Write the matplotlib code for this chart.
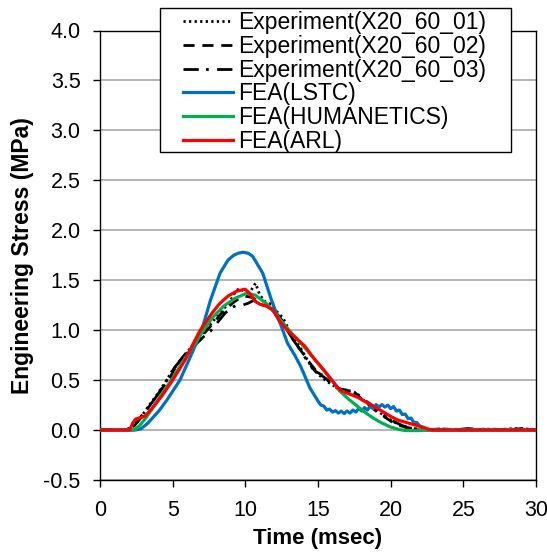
import matplotlib
matplotlib.use("Agg")
import matplotlib.pyplot as plt
from matplotlib.patches import Rectangle

plt.rcParams['font.family'] = ['Liberation Sans', 'DejaVu Sans']

# ---- data ----
exp1_t = [0, 0.5, 1.0, 1.5, 1.9, 2.3, 2.7, 3.1, 3.5, 4.0, 4.5, 5.0, 5.5, 6.0, 6.5, 7.0, 7.5, 8.0,
          8.5, 9.0, 9.3, 9.6, 10.0, 10.4, 10.7, 11.0, 11.4, 11.8, 12.2, 12.6, 13.0, 13.4, 13.8,
          14.2, 14.6, 15.0, 15.5, 16.0, 16.5, 17.0, 17.5, 18.0, 18.5, 19.0, 19.5, 20.0, 20.5,
          21.0, 21.5, 22.0, 22.5, 23.5, 24.5, 25.5, 26.5, 27.5, 28.5, 29.5, 30]
exp1_y = [0.0, 0.005, 0.0, 0.005, 0.01, 0.04, 0.1, 0.19, 0.27, 0.37, 0.48, 0.6, 0.69, 0.78, 0.87, 0.96,
          1.04, 1.13, 1.21, 1.3, 1.38, 1.42, 1.38, 1.40, 1.47, 1.35, 1.28, 1.26, 1.18, 1.12, 1.0,
          0.9, 0.82, 0.72, 0.62, 0.56, 0.5, 0.45, 0.41, 0.39, 0.36, 0.31, 0.26, 0.2, 0.15, 0.1,
          0.06, 0.03, 0.015, 0.005, 0.0, 0.01, 0.005, 0.0, 0.01, 0.005, 0.015, 0.01, 0.0]

exp2_t = [0, 0.6, 1.2, 1.8, 2.2, 2.6, 3.0, 3.4, 3.8, 4.3, 4.8, 5.3, 5.8, 6.3, 6.8, 7.3, 7.8, 8.3,
          8.8, 9.2, 9.6, 10.0, 10.4, 10.8, 11.2, 11.6, 12.0, 12.5, 13.0, 13.5, 14.0, 14.5, 15.0,
          15.5, 16.0, 16.5, 17.0, 17.5, 18.0, 18.5, 19.0, 19.5, 20.0, 20.5, 21.0, 21.5, 22.0,
          23.0, 24.0, 25.0, 26.0, 27.0, 28.0, 29.0, 30]
exp2_y = [0.005, 0.0, 0.005, 0.0, 0.03, 0.09, 0.17, 0.24, 0.32, 0.42, 0.52, 0.66, 0.75, 0.83, 0.91,
          0.99, 1.07, 1.16, 1.23, 1.28, 1.32, 1.34, 1.33, 1.3, 1.25, 1.24, 1.19, 1.1, 0.97, 0.86,
          0.76, 0.66, 0.57, 0.52, 0.46, 0.41, 0.40, 0.38, 0.31, 0.25, 0.19, 0.14, 0.09, 0.05,
          0.03, 0.015, 0.0, 0.005, 0.01, 0.0, 0.005, 0.01, 0.0, 0.015, 0.005]

exp3_t = [0, 0.7, 1.4, 2.0, 2.4, 2.8, 3.2, 3.6, 4.1, 4.6, 5.1, 5.6, 6.1, 6.6, 7.1, 7.6, 8.1, 8.6,
          9.0, 9.4, 9.8, 10.2, 10.6, 11.0, 11.4, 11.8, 12.3, 12.8, 13.3, 13.8, 14.3, 14.8, 15.3,
          15.8, 16.3, 16.8, 17.3, 17.8, 18.3, 18.8, 19.3, 19.8, 20.3, 20.8, 21.3, 21.8, 22.3,
          23.3, 24.3, 25.3, 26.3, 27.3, 28.3, 29.3, 30]
exp3_y = [0.0, 0.005, 0.0, 0.01, 0.05, 0.12, 0.2, 0.28, 0.38, 0.5, 0.62, 0.71, 0.79, 0.86, 0.93,
          0.99, 1.08, 1.17, 1.22, 1.25, 1.25, 1.27, 1.3, 1.26, 1.25, 1.22, 1.14, 1.04, 0.9, 0.8,
          0.68, 0.59, 0.55, 0.48, 0.42, 0.40, 0.39, 0.35, 0.29, 0.24, 0.18, 0.12, 0.08, 0.045,
          0.02, 0.01, 0.0, 0.01, 0.0, 0.015, 0.005, 0.0, 0.01, 0.005, 0.0]

lstc_t = [0, 2.4, 2.8, 3.3, 4.1, 4.6, 5.5, 6.3, 7.0, 7.6, 8.26, 8.8, 9.2, 9.5, 9.85, 10.2, 10.5,
          11.2, 11.8, 12.4, 12.9, 13.4, 13.8, 14.45, 15.0, 15.2, 15.4, 15.6, 15.8, 16.0, 16.2,
          16.4, 16.6, 16.8, 17.0, 17.2, 17.4, 17.6, 17.8, 18.0, 18.2, 18.4, 18.6, 18.8, 19.0,
          19.2, 19.4, 19.6, 19.8, 20.0, 20.2, 20.4, 20.6, 20.8, 21.0, 21.2, 21.4, 21.6, 21.8,
          22.0, 22.2, 22.6, 30]
lstc_y = [0.0, 0.0, 0.01, 0.07, 0.2, 0.3, 0.5, 0.76, 1.0, 1.3, 1.57, 1.7, 1.75, 1.77, 1.78, 1.77, 1.74,
          1.57, 1.3, 1.07, 0.87, 0.75, 0.64, 0.42, 0.29, 0.25, 0.24, 0.2, 0.21, 0.18, 0.195,
          0.17, 0.19, 0.165, 0.19, 0.17, 0.2, 0.18, 0.215, 0.19, 0.225, 0.2, 0.24, 0.215, 0.255,
          0.23, 0.255, 0.23, 0.25, 0.215, 0.235, 0.19, 0.2, 0.155, 0.16, 0.115, 0.12, 0.075, 0.075,
          0.04, 0.03, 0.0, 0.0]

hum_t = [0, 2.3, 2.7, 3.2, 4.25, 5.0, 5.85, 6.9, 7.7, 8.5, 9.3, 10.1, 10.7, 11.5, 12.2, 13.0, 14.0,
         15.0, 15.4, 16.0, 16.5, 17.1, 17.7, 18.3, 18.8, 19.4, 20.0, 20.6, 21.0, 22.0, 22.5, 30]
hum_y = [0.0, 0.0, 0.04, 0.13, 0.36, 0.52, 0.72, 0.95, 1.12, 1.24, 1.32, 1.37, 1.35, 1.26, 1.14, 1.0,
         0.84, 0.67, 0.6, 0.49, 0.39, 0.31, 0.24, 0.17, 0.12, 0.07, 0.03, 0.005, -0.005, -0.005,
         0.0, 0.0]

arl_t = [0, 2.05, 2.25, 2.45, 3.1, 3.6, 4.25, 5.0, 5.85, 6.54, 6.9, 7.7, 8.26, 8.8, 9.4, 9.98, 10.3,
         10.67, 11.0, 11.47, 11.9, 12.4, 13.1, 14.1, 14.7, 15.4, 16.0, 16.5, 17.0, 17.7, 18.3,
         18.8, 19.4, 19.96, 20.5, 21.1, 21.8, 22.5, 22.8, 30]
arl_y = [0.0, 0.0, 0.07, 0.11, 0.14, 0.22, 0.34, 0.5, 0.7, 0.9, 1.0, 1.17, 1.27, 1.34, 1.39, 1.41,
         1.37, 1.29, 1.26, 1.24, 1.2, 1.08, 0.97, 0.84, 0.72, 0.6, 0.49, 0.4, 0.37, 0.33, 0.28,
         0.24, 0.19, 0.14, 0.1, 0.075, 0.045, 0.015, 0.0, 0.0]

labels = ['Experiment(X20_60_01)', 'Experiment(X20_60_02)', 'Experiment(X20_60_03)',
          'FEA(LSTC)', 'FEA(HUMANETICS)', 'FEA(ARL)']
x_ticks = [0, 5, 10, 15, 20, 25, 30]
y_ticks = [-0.5, 0.0, 0.5, 1.0, 1.5, 2.0, 2.5, 3.0, 3.5, 4.0]

# ---- figure ----
W, H = 547, 557
fig = plt.figure(figsize=(W / 100, H / 100), dpi=100)
ax = fig.add_axes([100 / W, 1 - 480 / H, 436 / W, 449.5 / H])

blw = 2.0
clw = 2.3
ax.plot(exp1_t, exp1_y, color='black', lw=blw, linestyle=(0, (0.8, 1.2)), label=labels[0], zorder=3)
ax.plot(exp2_t, exp2_y, color='black', lw=blw, linestyle=(0, (4, 2.8)), label=labels[1], zorder=3)
ax.plot(exp3_t, exp3_y, color='black', lw=blw, linestyle=(0, (5.5, 2.6, 1.0, 3.0)), label=labels[2], zorder=3)
ax.plot(lstc_t, lstc_y, color='#0070C0', lw=clw, label=labels[3], zorder=4)
ax.plot(hum_t, hum_y, color='#00B050', lw=clw, label=labels[4], zorder=5)
ax.plot(arl_t, arl_y, color='#FF0000', lw=clw, label=labels[5], zorder=6)

ax.set_xlim(0, 30)
ax.set_ylim(-0.5, 4.0)
ax.set_xticks(x_ticks)
ax.set_yticks(y_ticks)
ax.set_xticklabels([str(v) for v in x_ticks])
ax.set_yticklabels(['%.1f' % v for v in y_ticks])
ax.tick_params(axis='both', direction='out', length=5, width=1, labelsize=15.5, colors='black')
ax.tick_params(axis='x', pad=9.5)
ax.tick_params(axis='y', pad=9)
ax.yaxis.grid(True, color='#a0a0a0', lw=1.1)
ax.set_axisbelow(True)
for s in ax.spines.values():
    s.set_color('black')
    s.set_linewidth(1.0)

ax.set_xlabel('Time (msec)', fontsize=16, fontweight='bold')
ax.set_ylabel('Engineering Stress (MPa)', fontsize=16.5, fontweight='bold')
ax.xaxis.set_label_coords(0.5, (480 - 528) / 449.5)
ax.yaxis.set_label_coords((34 - 100) / 436, 0.5)

# legend box (Excel-style padding) and frameless legend on top
fig.patches.append(Rectangle((160 / W, 1 - 152 / H), 351 / W, 144 / H, transform=fig.transFigure,
                             facecolor='white', edgecolor='black', lw=1.0, zorder=9))
leg = fig.legend(loc='upper left', bbox_to_anchor=(183 / W, 1 - 11 / H),
                 fontsize=16.5, frameon=False, handlelength=2.18, handletextpad=0.22,
                 labelspacing=0.035, borderpad=0, borderaxespad=0)
leg.set_zorder(10)

fig.savefig('out.png', dpi=100)
